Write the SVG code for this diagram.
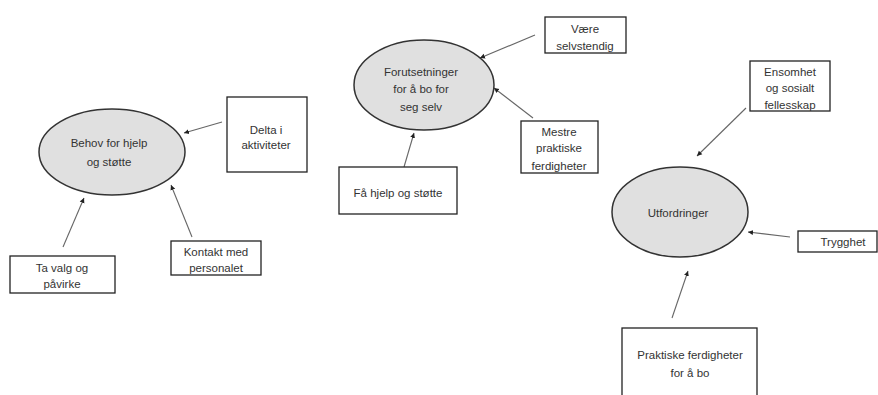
<svg xmlns="http://www.w3.org/2000/svg" width="878" height="395" viewBox="0 0 878 395">
<defs>
<style>
.ell{fill:#e0e0e0;stroke:#333;stroke-width:1.5}
.box{fill:#fff;stroke:#222;stroke-width:1.3}
.t{font-family:"Liberation Sans",Arial,sans-serif;font-size:11.5px;fill:#333;text-anchor:middle}
.c{stroke:#666;stroke-width:1.1;fill:none;marker-end:url(#ah)}
</style>
<marker id="ah" markerWidth="6" markerHeight="6" refX="5" refY="3" orient="auto" markerUnits="userSpaceOnUse">
<path d="M0,0.5 L5,3 L0,5.5 Z" fill="#222"/>
</marker>
</defs>
<rect width="878" height="395" fill="#fff"/>
<g id="connectors">
<line class="c" x1="222" y1="122" x2="184" y2="133"/>
<line class="c" x1="63" y1="247" x2="84" y2="198"/>
<line class="c" x1="192" y1="237" x2="171" y2="185"/>
<line class="c" x1="535" y1="35" x2="480" y2="58"/>
<line class="c" x1="533" y1="118" x2="494" y2="88"/>
<line class="c" x1="404" y1="167" x2="414" y2="133"/>
<line class="c" x1="746" y1="108" x2="697" y2="156"/>
<line class="c" x1="790" y1="237" x2="748" y2="232"/>
<line class="c" x1="672" y1="318" x2="688" y2="271"/>
</g>
<g id="behov">
<ellipse class="ell" cx="112" cy="152" rx="73" ry="43"/>
<text class="t" x="109" y="147">Behov for hjelp</text>
<text class="t" x="109" y="166">og støtte</text>
</g>
<g id="delta">
<rect class="box" x="227" y="97" width="80" height="75"/>
<text class="t" x="266" y="134">Delta i</text>
<text class="t" x="266" y="149">aktiviteter</text>
</g>
<g id="tavalg">
<rect class="box" x="10" y="256" width="105" height="37"/>
<text class="t" x="62" y="272">Ta valg og</text>
<text class="t" x="62" y="288">påvirke</text>
</g>
<g id="kontakt">
<rect class="box" x="171" y="241" width="90" height="34"/>
<text class="t" x="216" y="256">Kontakt med</text>
<text class="t" x="216" y="272">personalet</text>
</g>
<g id="forutsetninger">
<ellipse class="ell" cx="424" cy="85" rx="70" ry="45"/>
<text class="t" x="421" y="76">Forutsetninger</text>
<text class="t" x="421" y="93">for å bo for</text>
<text class="t" x="421" y="111">seg selv</text>
</g>
<g id="vaere">
<rect class="box" x="545" y="17" width="81" height="36"/>
<text class="t" x="585" y="33">Være</text>
<text class="t" x="585" y="50">selvstendig</text>
</g>
<g id="mestre">
<rect class="box" x="521" y="121" width="77" height="52"/>
<text class="t" x="559" y="136">Mestre</text>
<text class="t" x="559" y="152">praktiske</text>
<text class="t" x="559" y="170">ferdigheter</text>
</g>
<g id="faahjelp">
<rect class="box" x="339" y="167" width="118" height="47"/>
<text class="t" x="398" y="197">Få hjelp og støtte</text>
</g>
<g id="utfordringer">
<ellipse class="ell" cx="680" cy="212" rx="68" ry="45"/>
<text class="t" x="678" y="217">Utfordringer</text>
</g>
<g id="ensomhet">
<rect class="box" x="750" y="61" width="80" height="50"/>
<text class="t" x="790" y="76">Ensomhet</text>
<text class="t" x="790" y="92">og sosialt</text>
<text class="t" x="790" y="109">fellesskap</text>
</g>
<g id="trygghet">
<rect class="box" x="798" y="231" width="79" height="21"/>
<text class="t" x="843" y="246">Trygghet</text>
</g>
<g id="praktiske">
<rect class="box" x="622" y="328" width="135" height="80"/>
<text class="t" x="690" y="359">Praktiske ferdigheter</text>
<text class="t" x="690" y="377">for å bo</text>
</g>
</svg>
